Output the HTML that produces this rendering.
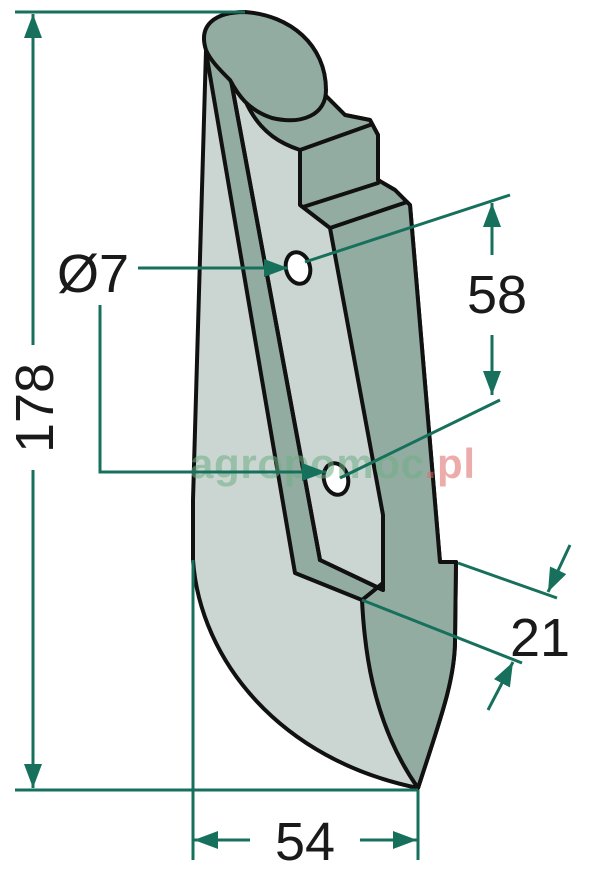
<!DOCTYPE html>
<html><head><meta charset="utf-8"><style>
html,body{margin:0;padding:0;background:#fff;}
svg{display:block;}
text{font-family:"Liberation Sans",sans-serif;fill:#1a1a1a;}
</style></head><body>
<svg width="600" height="891" viewBox="0 0 600 891" xmlns="http://www.w3.org/2000/svg">
<defs>
<marker id="a" viewBox="0 0 10 10" refX="10" refY="5" markerWidth="24" markerHeight="18" orient="auto-start-reverse" markerUnits="userSpaceOnUse" preserveAspectRatio="none">
<path d="M0,0 L10,5 L0,10 z" fill="#17705c"/></marker>
</defs>
<g stroke="#111" stroke-width="4" stroke-linejoin="round" stroke-linecap="round">
<path d="M206,50 L193,500 L193,560 C200,660 280,760 418,788 C440,720 455,680 455,640 L456,562 L440,562 L410,205 L395,190 L378,180 L378,135 L370,120 L345,115 L325,95 L300,60 L250,20 Z" fill="#cbd6d2"/>
<path d="M245,100 C260,135 285,145 300,150 L300,205 L330,228 L383,515 L383,583 L362,600 C364,640 370,720 418,788 C440,720 455,680 455,640 L456,562 L440,562 L410,205 L395,190 L378,180 L378,135 L370,120 L345,115 L325,95 Z" fill="#93aca2"/>
<path d="M206,52 L295,573 L362,600 L383,583 L383,590 L320,560 L230,75 Z" fill="#93aca2"/>
<path d="M320,560 L230,75" fill="none"/>
<path d="M320,560 L383,590" fill="none"/>
<path d="M206,50 C198,25 215,12 245,12 C290,15 326,45 326,90 C326,115 302,125 272,118 C248,110 238,95 230,80 C220,70 210,60 206,50 Z" fill="#93aca2"/>
<path d="M300,150 L370,125 M303,207 L378,183 M330,228 L407,202" fill="none"/>
<ellipse cx="298" cy="268" rx="12" ry="16" fill="#fff" transform="rotate(-15 298 268)"/>
<ellipse cx="336" cy="479" rx="12" ry="16" fill="#fff" transform="rotate(-15 336 479)"/>
</g>
<text x="190" y="478" font-size="42" font-weight="bold" style="fill:#6fae84;opacity:.55" textLength="285">agropomoc<tspan style="fill:#e06a6a">.pl</tspan></text>
<g stroke="#17705c" stroke-width="3" fill="none">
<path d="M15,12 L245,12 M15,790 L418,790"/>
<path d="M33,345 L33,14" marker-end="url(#a)"/>
<path d="M33,470 L33,788" marker-end="url(#a)"/>
<path d="M193,560 L193,860 M418,790 L418,860"/>
<path d="M250,840 L194,840" marker-end="url(#a)"/>
<path d="M360,840 L417,840" marker-end="url(#a)"/>
<path d="M138,268 L288,268" marker-end="url(#a)"/>
<path d="M100,305 L100,472 L326,472" marker-end="url(#a)"/>
<path d="M305,262 L510,195 M340,478 L500,400"/>
<path d="M492,255 L492,203" marker-end="url(#a)"/>
<path d="M492,335 L492,395" marker-end="url(#a)"/>
<path d="M458,563 L557,598 M362,600 L522,663"/>
<path d="M570,545 L548,592" marker-end="url(#a)"/>
<path d="M488,710 L513,662" marker-end="url(#a)"/>
</g>
<text x="57" y="292" font-size="54">Ø7</text>
<text x="467" y="313" font-size="54">58</text>
<text x="510" y="656" font-size="54">21</text>
<text x="305" y="860" font-size="54" text-anchor="middle">54</text>
<text transform="translate(53,408) rotate(-90)" font-size="54" text-anchor="middle">178</text>
</svg>
</body></html>
